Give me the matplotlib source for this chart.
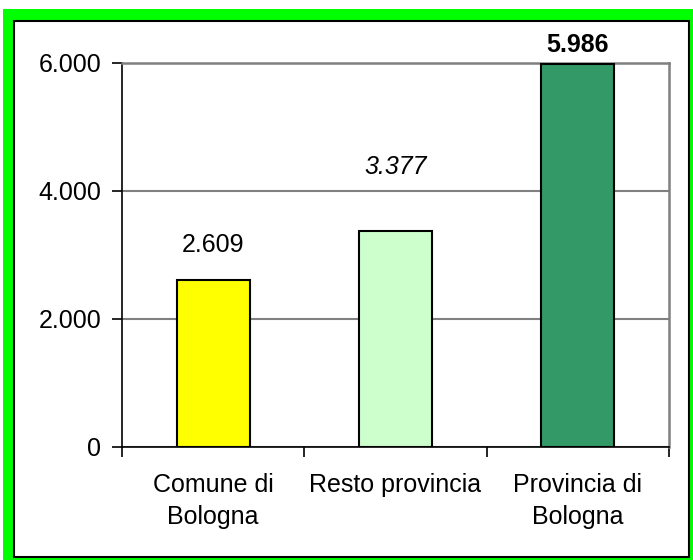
import matplotlib
matplotlib.use("Agg")
import matplotlib.pyplot as plt
from matplotlib.patches import Rectangle

categories = ["Comune di\nBologna", "Resto provincia", "Provincia di\nBologna"]
values = [2609, 3377, 5986]
value_labels = ["2.609", "3.377", "5.986"]
ytick_vals = [0, 2000, 4000, 6000]
ytick_labels = ["0", "2.000", "4.000", "6.000"]

colors = ["#FFFF00", "#CCFFCC", "#339966"]
label_styles = [("normal", "normal"), ("italic", "normal"), ("normal", "bold")]
label_offsets = [28, 57, 12]  # px from bar top to label baseline

W, H = 693, 560
dpi = 100
FS = 18
fig = plt.figure(figsize=(W / dpi, H / dpi), dpi=dpi)
plt.rcParams['font.family'] = ['Liberation Sans', 'DejaVu Sans']

def fx(x):
    return x / W

def fy(y):
    return 1 - y / H

# Outer green frame and inner black frame
fig.patches.append(Rectangle((fx(3), 0), 1 - fx(3), fy(9), transform=fig.transFigure,
                             facecolor="#00FF00", edgecolor="none", zorder=0))
fig.patches.append(Rectangle((fx(13.5), fy(557)), fx(689) - fx(13.5), fy(20.5) - fy(557),
                             transform=fig.transFigure, facecolor="white",
                             edgecolor="black", linewidth=1.5, zorder=1))

ax = fig.add_axes([fx(122), fy(447), fx(669) - fx(122), fy(63) - fy(447)])
ax.set_zorder(2)
ax.patch.set_alpha(0)

x = list(range(len(categories)))
bars = ax.bar(x, values, width=0.4, color=colors, edgecolor="black", linewidth=1.5, zorder=3)

ax.set_xlim(-0.5, 2.5)
ax.set_ylim(0, 6000)
ax.set_yticks(ytick_vals)
ax.set_yticklabels(ytick_labels, fontsize=FS)
ax.tick_params(axis='y', length=7, width=1.2, pad=8, direction='out')

ax.set_xticks(x)
ax.set_xticklabels(categories, fontsize=FS, linespacing=1.38)
ax.tick_params(axis='x', which='major', length=0, pad=19)
ax.set_xticks([-0.5, 0.5, 1.5, 2.5], minor=True)
ax.tick_params(axis='x', which='minor', length=7, width=1.2, direction='out')

ax.yaxis.grid(True, color="#808080", linewidth=1.5, zorder=1)
ax.set_axisbelow(True)

ax.spines['left'].set_color('black')
ax.spines['bottom'].set_color('black')
ax.spines['left'].set_linewidth(1.2)
ax.spines['bottom'].set_linewidth(1.2)
ax.spines['top'].set_color('#808080')
ax.spines['right'].set_color('#808080')
ax.spines['top'].set_linewidth(1.8)
ax.spines['right'].set_linewidth(1.8)

for xi, v, lab, (st, wt), off in zip(x, values, value_labels, label_styles, label_offsets):
    ax.annotate(lab, xy=(xi, v), xytext=(0, off * 72 / dpi), textcoords='offset points',
                ha='center', va='baseline', fontsize=FS, style=st, fontweight=wt)

fig.savefig("out.png", dpi=dpi)
